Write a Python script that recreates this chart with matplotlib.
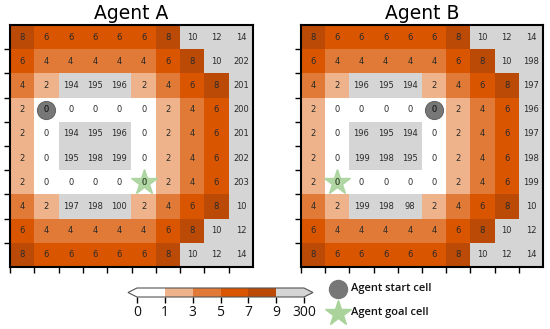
import numpy as np
import matplotlib
matplotlib.use("Agg")
import matplotlib.pyplot as plt
from matplotlib.colors import ListedColormap, BoundaryNorm

titles = ["Agent A", "Agent B"]

agent_a = [
    [8, 6, 6, 6, 6, 6, 8, 10, 12, 14],
    [6, 4, 4, 4, 4, 4, 6, 8, 10, 202],
    [4, 2, 194, 195, 196, 2, 4, 6, 8, 201],
    [2, 0, 0, 0, 0, 0, 2, 4, 6, 200],
    [2, 0, 194, 195, 196, 0, 2, 4, 6, 201],
    [2, 0, 195, 198, 199, 0, 2, 4, 6, 202],
    [2, 0, 0, 0, 0, 0, 2, 4, 6, 203],
    [4, 2, 197, 198, 100, 2, 4, 6, 8, 10],
    [6, 4, 4, 4, 4, 4, 6, 8, 10, 12],
    [8, 6, 6, 6, 6, 6, 8, 10, 12, 14],
]
agent_b = [
    [8, 6, 6, 6, 6, 6, 8, 10, 12, 14],
    [6, 4, 4, 4, 4, 4, 6, 8, 10, 198],
    [4, 2, 196, 195, 194, 2, 4, 6, 8, 197],
    [2, 0, 0, 0, 0, 0, 2, 4, 6, 196],
    [2, 0, 196, 195, 194, 0, 2, 4, 6, 197],
    [2, 0, 199, 198, 195, 0, 2, 4, 6, 198],
    [2, 0, 0, 0, 0, 0, 2, 4, 6, 199],
    [4, 2, 199, 198, 98, 2, 4, 6, 8, 10],
    [6, 4, 4, 4, 4, 4, 6, 8, 10, 12],
    [8, 6, 6, 6, 6, 6, 8, 10, 12, 14],
]
# (row, col)
start_cells = [(3, 1), (3, 5)]
goal_cells = [(6, 5), (6, 1)]

bounds = [0, 1, 3, 5, 7, 9, 300]
bound_labels = ["0", "1", "3", "5", "7", "9", "300"]
colors = ["#ffffff", "#efb38c", "#e07a36", "#d95500", "#bb4a07", "#d5d5d5"]

cmap = ListedColormap(colors)
cmap.set_under(colors[0])
cmap.set_over(colors[-1])
norm = BoundaryNorm(bounds, cmap.N)

fig = plt.figure(figsize=(5.5, 3.29), dpi=100)
W, H = 550, 329

axes_px = [(10, 25, 243, 242), (301, 25, 242, 242)]
grids = [agent_a, agent_b]

for i, (x0, y0, w, h) in enumerate(axes_px):
    ax = fig.add_axes([x0 / W, 1 - (y0 + h) / H, w / W, h / H])
    data = np.array(grids[i])
    ax.imshow(data, cmap=cmap, norm=norm, interpolation="nearest", aspect="auto")
    for r in range(data.shape[0]):
        for c in range(data.shape[1]):
            ax.text(c, r, str(data[r, c]), ha="center", va="center",
                    fontsize=6, color="#2a2a2a")
    sr, sc = start_cells[i]
    ax.plot(sc, sr, "o", ms=13, color="#777777", mec="#666666", mew=0.8)
    ax.text(sc, sr, "0", ha="center", va="center", fontsize=6, color="#2a2a2a")
    gr, gc = goal_cells[i]
    ax.plot(gc, gr, "*", ms=19, color="#a9d39b", mec="#a9d39b", alpha=0.9)
    ax.text(gc, gr, "0", ha="center", va="center", fontsize=6, color="#4a6a3a")
    ax.set_xlim(-0.5, 9.5)
    ax.set_ylim(9.5, -0.5)
    ax.set_xticks(np.arange(10) - 0.5)
    ax.set_yticks(np.arange(1, 10) - 0.5)
    ax.set_xticklabels([])
    ax.set_yticklabels([])
    ax.tick_params(direction="out", length=4, width=1, color="black")
    for s in ax.spines.values():
        s.set_linewidth(1.5)
        s.set_color("black")
    ax.set_title(titles[i], fontsize=13.5, pad=4)

# colorbar (axes includes extension triangles: 128..313 px)
cax = fig.add_axes([128 / W, 1 - 297 / H, 185 / W, 9 / H])
sm = matplotlib.cm.ScalarMappable(cmap=cmap, norm=norm)
cb = fig.colorbar(sm, cax=cax, orientation="horizontal", extend="both",
                  extendfrac=9 / 167, spacing="uniform", ticks=bounds,
                  boundaries=bounds)
cb.ax.set_xticklabels(bound_labels, fontsize=10,
                      family=["Open Sans", "DejaVu Sans"], color="#111111")
cb.ax.tick_params(axis="x", which="major", direction="out", bottom=True,
                  length=4, width=1, pad=1.5, color="black")
cb.ax.minorticks_off()
cb.outline.set_linewidth(0.8)
cb.outline.set_edgecolor("#555555")

# legend
lax = fig.add_axes([0, 0, 1, 1], facecolor="none")
lax.set_xlim(0, W)
lax.set_ylim(H, 0)
lax.axis("off")
lax.plot(338, 289, "o", ms=13, color="#777777", mec="#777777")
lax.plot(338, 313, "*", ms=19, color="#a9d39b", mec="#a9d39b")
lax.text(351, 289, "Agent start cell", ha="left", va="center", fontsize=8,
         fontweight="semibold", family=["Open Sans", "DejaVu Sans"], color="#111111")
lax.text(351, 313, "Agent goal cell", ha="left", va="center", fontsize=8,
         fontweight="semibold", family=["Open Sans", "DejaVu Sans"], color="#111111")

fig.savefig("out.png", dpi=100)
